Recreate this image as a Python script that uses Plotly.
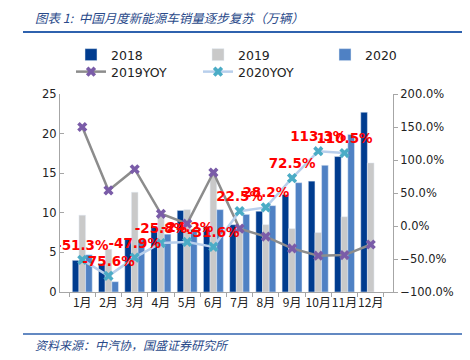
import plotly.graph_objects as go

months = ["1月", "2月", "3月", "4月", "5月", "6月", "7月", "8月", "9月", "10月", "11月", "12月"]
sales_2018 = [4.0, 3.6, 6.8, 8.3, 10.3, 8.3, 8.5, 10.2, 12.3, 14.0, 17.1, 22.7]
sales_2019 = [9.7, 5.4, 12.6, 9.8, 10.4, 15.2, 8.0, 8.5, 8.0, 7.5, 9.5, 16.3]
sales_2020 = [4.7, 1.3, 6.6, 7.3, 7.9, 10.4, 9.8, 10.9, 13.8, 16.0, 19.9, None]
yoy_2019 = [150.0, 54.0, 86.0, 18.5, 3.5, 81.0, -4.0, -16.0, -34.0, -45.0, -44.0, -28.0]
yoy_2020 = [-51.3, -75.6, -47.9, -25.8, -24.2, -31.6, 22.5, 28.2, 72.5, 113.3, 110.5, None]

# the page body has an 8px default margin, so the figure is drawn 8px in
OFF = 8
W, H = 470 - OFF, 360 - OFF
L, R, T, B = 60 - OFF, 77, 94 - OFF, 68
pw, ph = W - L - R, H - T - B


def px(x):
    return (x - OFF - L) / pw


def py(y):
    return (H - B - (y - OFF)) / ph


fig = go.Figure()
fig.add_trace(go.Bar(x=months, y=sales_2018, name="2018", marker_color="#003C8F", legend="legend"))
fig.add_trace(go.Bar(x=months, y=sales_2019, name="2019", marker_color="#C9C9C9", legend="legend2"))
fig.add_trace(go.Bar(x=months, y=sales_2020, name="2020", marker_color="#4F81C4", legend="legend3"))
fig.add_trace(go.Scatter(
    x=months, y=yoy_2019, name="2019YOY", yaxis="y2", mode="lines+markers", legend="legend4",
    line=dict(color="#8C8C8C", width=2.5),
    marker=dict(symbol="x", size=9, color="#7A5CA8", line=dict(width=0)),
))
fig.add_trace(go.Scatter(
    x=months, y=yoy_2020, name="2020YOY", yaxis="y2", mode="lines+markers+text", legend="legend5",
    line=dict(color="#B8CFEC", width=2.5),
    marker=dict(symbol="x", size=9, color="#4BACC6", line=dict(width=0)),
    text=[f"{v:.1f}%" if v is not None else "" for v in yoy_2020],
    textposition="top center",
    textfont=dict(family="DejaVu Sans", size=13.5, color="#FF0000", weight="bold"),
))

axis_font = dict(family="DejaVu Sans", size=11.5, color="#222222")


def leg(text_x, row_y):
    return dict(
        orientation="h", xref="paper", yref="paper",
        x=px(text_x - 41), y=py(row_y), xanchor="left", yanchor="middle",
        font=dict(family="DejaVu Sans", size=12.5, color="#222222"),
        itemwidth=30, bgcolor="rgba(0,0,0,0)",
    )


fig.update_layout(
    width=W, height=H,
    margin=dict(l=L, r=R, t=T, b=B, pad=0, autoexpand=False),
    paper_bgcolor="white", plot_bgcolor="white",
    barmode="group", bargap=0.24, bargroupgap=0,
    showlegend=True,
    legend=leg(112, 55),
    legend2=leg(239, 55),
    legend3=leg(366, 55),
    legend4=leg(112, 72),
    legend5=leg(239, 72),
    xaxis=dict(
        type="category", showline=True, linecolor="#A6A6A6", linewidth=1,
        ticks="outside", ticklen=4, tickcolor="#A6A6A6", tickson="boundaries",
        tickangle=0, automargin=False,
        tickfont=dict(family="Noto Sans CJK SC", size=12, color="#222222"),
        showgrid=False,
    ),
    yaxis=dict(
        range=[0, 25], dtick=5, showline=True, linecolor="#A6A6A6", linewidth=1,
        ticks="inside", ticklen=4, tickcolor="#A6A6A6", automargin=False,
        tickfont=axis_font, showgrid=False, zeroline=False,
    ),
    yaxis2=dict(
        overlaying="y", side="right", range=[-100, 200], dtick=50,
        tickformat=".1f", ticksuffix="%", automargin=False,
        showline=True, linecolor="#A6A6A6", linewidth=1,
        ticks="outside", ticklen=4, tickcolor="#A6A6A6",
        tickfont=axis_font, showgrid=False, zeroline=False,
    ),
    shapes=[
        dict(type="line", xref="paper", yref="paper", x0=px(23), x1=px(463),
             y0=py(32), y1=py(32), line=dict(color="#2F62AE", width=2)),
        dict(type="line", xref="paper", yref="paper", x0=px(23), x1=px(463),
             y0=py(334), y1=py(334), line=dict(color="#2F62AE", width=1.5)),
    ],
    annotations=[
        dict(text="图表 1:  中国月度新能源车销量逐步复苏（万辆）", xref="paper", yref="paper",
             x=px(33), y=py(17), xanchor="left", yanchor="middle", showarrow=False,
             font=dict(family="Noto Sans CJK SC", size=12.5, color="#2A4A8A", style="italic")),
        dict(text="资料来源：中汽协，国盛证券研究所", xref="paper", yref="paper",
             x=px(33), y=py(344), xanchor="left", yanchor="middle", showarrow=False,
             font=dict(family="Noto Sans CJK SC", size=12, color="#2A4A8A", style="italic")),
    ],
)

fig.write_html("out.html")
